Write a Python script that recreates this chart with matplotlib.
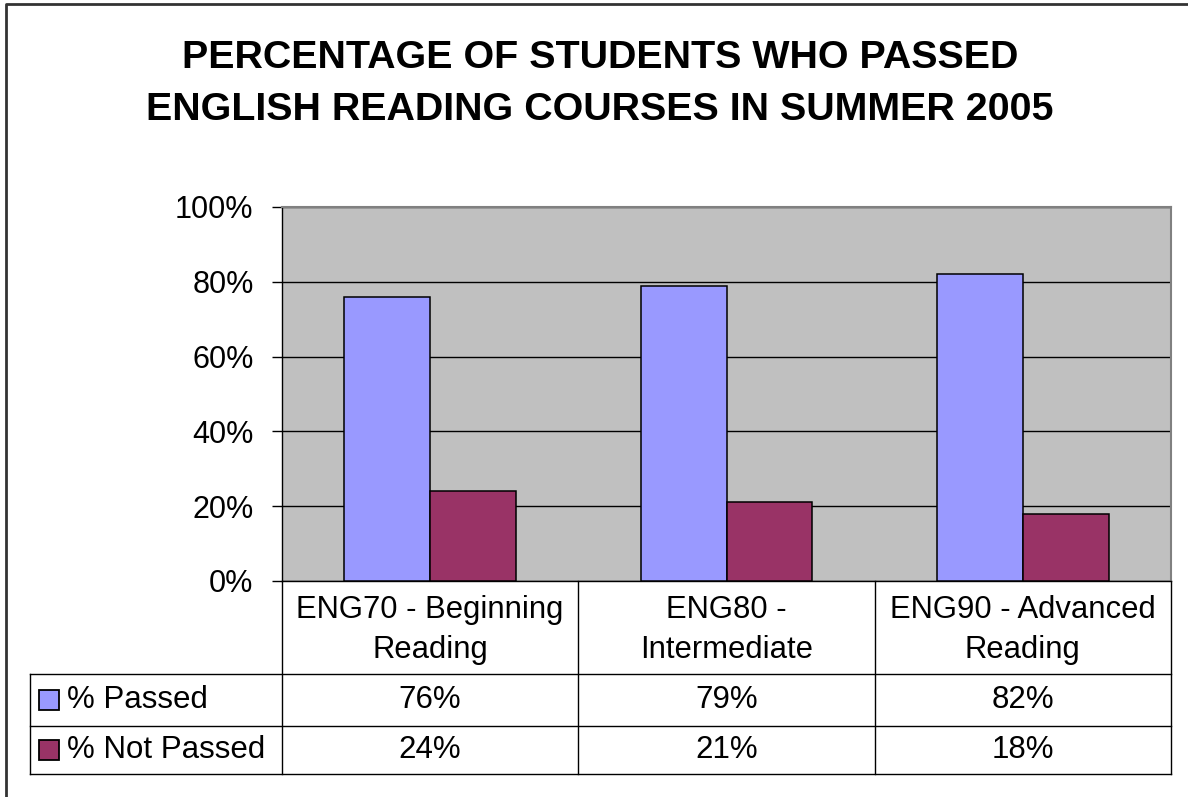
import numpy as np
import matplotlib.pyplot as plt
import matplotlib.transforms as mtransforms
from matplotlib.lines import Line2D

plt.rcParams['font.family'] = ['Liberation Sans', 'DejaVu Sans']

# data
courses = ["ENG70 - Beginning\nReading", "ENG80 -\nIntermediate", "ENG90 - Advanced\nReading"]
series_names = ["% Passed", "% Not Passed"]
passed = [76, 79, 82]
not_passed = [24, 21, 18]
colors = ["#9999FF", "#993366"]
title_lines = ["PERCENTAGE OF STUDENTS WHO PASSED", "ENGLISH READING COURSES IN SUMMER 2005"]

W, H = 1188, 797
fig = plt.figure(figsize=(W / 100, H / 100), dpi=100)
fig.patch.set_facecolor("white")

# plot area in pixels: x 282..1171, y 207..581
ax = fig.add_axes([282 / W, 1 - 581 / H, (1171 - 282) / W, (581 - 207) / H])
ax.set_facecolor("#C0C0C0")

x = np.arange(len(courses))
bw = 0.29
ax.bar(x - bw / 2, passed, bw, color=colors[0], edgecolor="black", linewidth=1.1, zorder=3)
ax.bar(x + bw / 2, not_passed, bw, color=colors[1], edgecolor="black", linewidth=1.1, zorder=3)

ax.set_xlim(-0.5, len(courses) - 0.5)
ax.set_ylim(0, 100)
ax.set_yticks(np.arange(0, 101, 20))
ax.set_yticklabels([f"{v}%" for v in range(0, 101, 20)])
ax.yaxis.grid(True, color="black", linewidth=1.0, zorder=1)
ax.set_axisbelow(True)
ax.tick_params(axis="y", direction="out", length=7.5, width=1.0, pad=13, labelsize=22)
ax.set_xticks([])

for s in ["top", "right"]:
    ax.spines[s].set_color("#808080")
    ax.spines[s].set_linewidth(1.5)
ax.spines["left"].set_color("black")
ax.spines["left"].set_linewidth(1.0)
ax.spines["bottom"].set_color("black")
ax.spines["bottom"].set_linewidth(1.0)

# data table below the plot (x in data units, y in axes fraction)
trans = mtransforms.blended_transform_factory(ax.transData, ax.transAxes)
ph = 581 - 207
y_head = -(674 - 581) / ph
y_r1 = -(726 - 581) / ph
y_r2 = -(774 - 581) / ph
px_unit = (1171 - 282) / 3
x_left = -0.5 - (282 - 30) / px_unit
x_right = len(courses) - 0.5

lk = dict(transform=trans, clip_on=False, color="black", linewidth=1.0)
for xb in np.arange(-0.5, len(courses) + 0.5, 1.0):
    ax.add_line(Line2D([xb, xb], [0, y_r2], **lk))
for yy in [y_head, y_r1, y_r2]:
    ax.add_line(Line2D([x_left, x_right], [yy, yy], **lk))
ax.add_line(Line2D([x_left, x_left], [y_head, y_r2], **lk))

# column headers
for i, c in enumerate(courses):
    ax.text(i, y_head / 2 - 0.006, c, transform=trans, ha="center", va="center",
            fontsize=22.3, linespacing=1.45, clip_on=False)

# rows with legend keys
rows = [passed, not_passed]
row_y = [(y_head + y_r1) / 2, (y_r1 + y_r2) / 2]
for r, (name, vals) in enumerate(zip(series_names, rows)):
    yc = row_y[r]
    ax.plot([-0.5 - (282 - 49.5) / px_unit], [yc], marker="s", ms=14,
            mfc=colors[r], mec="black", mew=1.3, transform=trans, clip_on=False)
    ax.text(-0.5 - (282 - 67) / px_unit, yc, name, transform=trans, ha="left",
            va="center", fontsize=22.5, clip_on=False)
    for i, v in enumerate(vals):
        ax.text(i, yc, f"{v}%", transform=trans, ha="center", va="center",
                fontsize=22.5, clip_on=False)

# title
for line, base in zip(title_lines, [68, 120]):
    fig.text(600 / W, 1 - base / H, line, ha="center", va="baseline",
             fontsize=28.4, fontweight="bold")

# chart frame (left and top edges visible)
fig.add_artist(Line2D([6 / W, 6 / W, 1.0], [0.0, 1 - 4 / H, 1 - 4 / H],
                      transform=fig.transFigure, color="#333333", linewidth=2.0))

fig.savefig("out.png", dpi=100)
